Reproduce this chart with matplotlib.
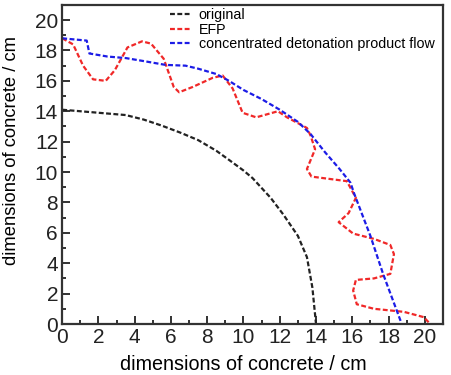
import matplotlib
matplotlib.use("Agg")
import matplotlib.pyplot as plt
from matplotlib.ticker import MultipleLocator

plt.rcParams['font.family'] = ['Liberation Sans', 'DejaVu Sans']

# original charge outline
orig_x = [0, 1, 2, 3.5, 4.5, 5.5, 6.5, 7.5, 8.5, 9.2, 10.0, 10.5, 11.5, 12.2, 13.0, 13.5, 13.8, 14.0]
orig_y = [14.1, 14.0, 13.9, 13.75, 13.45, 13.05, 12.6, 12.1, 11.4, 10.8, 10.1, 9.6, 8.3, 7.2, 5.8, 4.4, 2.4, 0.0]

# EFP crater outline
efp_x = [0.0, 0.6, 1.15, 1.7, 2.4, 2.9, 3.6, 4.4, 4.9, 5.6, 6.15, 6.45, 7.2, 8.3, 8.85,
         9.4, 9.95, 10.7, 11.9, 12.4, 13.5, 13.7, 13.95, 13.5, 13.75, 15.7, 16.2,
         15.8, 15.25, 16.05, 17.2, 18.1, 18.3, 18.1, 17.2, 16.2, 16.05, 16.25, 17.2,
         18.85, 19.95, 20.3]
efp_y = [18.8, 18.4, 17.0, 16.1, 16.0, 16.7, 18.2, 18.6, 18.45, 17.45, 15.6, 15.25, 15.6, 16.2, 16.35,
         15.5, 13.9, 13.6, 14.0, 13.6, 12.9, 12.4, 11.5, 10.2, 9.7, 9.4, 8.3,
         7.3, 6.7, 5.95, 5.6, 5.2, 4.6, 3.3, 3.0, 2.9, 2.2, 1.3, 1.0,
         0.8, 0.45, 0.0]

# concentrated detonation product flow outline
conc_x = [0.0, 1.35, 1.5, 2.5, 3.5, 4.5, 5.7, 6.8, 7.5, 8.5, 9.2, 10.0, 11.0, 12.0, 13.0,
          13.7, 14.5, 15.3, 15.9, 16.1, 17.0, 17.7, 18.7]
conc_y = [18.8, 18.65, 17.8, 17.6, 17.5, 17.3, 17.05, 17.0, 16.8, 16.45, 16.0, 15.4, 14.8, 14.1, 13.3,
          12.5, 11.3, 10.2, 9.3, 8.6, 5.8, 3.3, 0.1]

labels = ["original", "EFP", "concentrated detonation product flow"]

fig = plt.figure(figsize=(4.51, 3.75), dpi=100)
ax = fig.add_axes([0.138, 0.136, 0.844, 0.851])

ls = (0, (2.2, 1.1))
ax.plot(orig_x, orig_y, color='#222222', lw=1.6, ls=ls, label=labels[0])
ax.plot(efp_x, efp_y, color='#f02828', lw=1.6, ls=ls, label=labels[1])
ax.plot(conc_x, conc_y, color='#1c1ce6', lw=1.6, ls=ls, label=labels[2])

ax.set_xlim(0, 21)
ax.set_ylim(0, 21)
ax.xaxis.set_major_locator(MultipleLocator(2))
ax.xaxis.set_minor_locator(MultipleLocator(1))
ax.yaxis.set_major_locator(MultipleLocator(2))
ax.yaxis.set_minor_locator(MultipleLocator(1))
ax.tick_params(which='both', direction='in', top=False, right=False, width=1.3, colors='#222222')
ax.tick_params(which='major', length=6, labelsize=15, pad=3)
ax.tick_params(which='minor', length=3)
for s in ax.spines.values():
    s.set_linewidth(1.6)
    s.set_color('#333333')

ax.set_xlabel("dimensions of concrete / cm", fontsize=14.2, va='center')
ax.xaxis.set_label_coords(0.476, -0.127)
ax.set_ylabel("dimensions of concrete / cm", fontsize=13.2, va='center')
ax.yaxis.set_label_coords(-0.134, 0.545)

ax.legend(loc='upper left', bbox_to_anchor=(0.283, 0.99), frameon=False, fontsize=10.3,
          handlelength=1.45, handletextpad=0.55, labelspacing=0.05, borderpad=0.0,
          borderaxespad=0.0)

fig.savefig("out.png", dpi=100)
